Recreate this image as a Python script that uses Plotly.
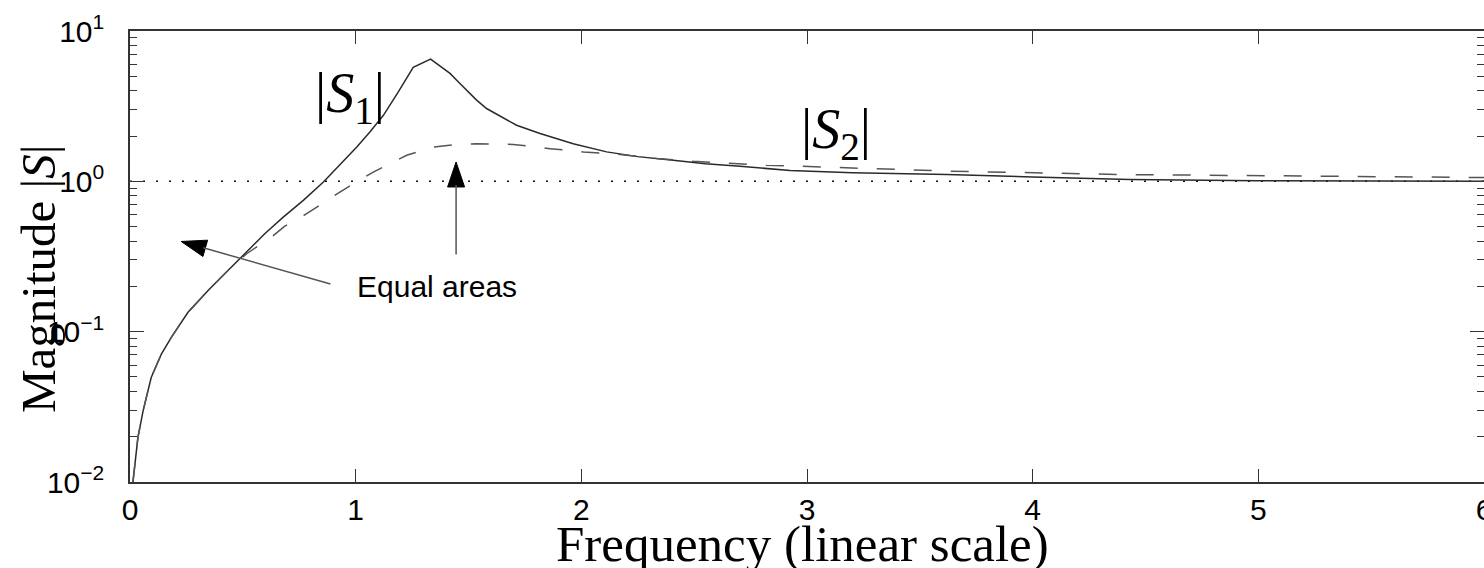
import math
import plotly.graph_objects as go

# ---- data ----
freq_s1 = [0.013, 0.021, 0.028, 0.035, 0.058, 0.094, 0.139, 0.183, 0.257, 0.346, 0.434,
           0.523, 0.597, 0.679, 0.768, 0.857, 0.93, 1.005, 1.063, 1.123, 1.189, 1.255,
           1.332, 1.418, 1.462, 1.536, 1.58, 1.669, 1.713, 1.817, 1.964, 2.112, 2.25,
           2.407, 2.55, 2.703, 2.925, 3.2, 3.62, 4.0, 4.43, 5.0, 5.5, 6.0]
mag_s1 = [0.0100, 0.0131, 0.0160, 0.0197, 0.0297, 0.0496, 0.071, 0.0916, 0.1345, 0.1877, 0.255,
          0.347, 0.448, 0.578, 0.747, 0.99, 1.28, 1.69, 2.13, 2.75, 3.94, 5.73,
          6.5, 5.22, 4.48, 3.47, 3.05, 2.55, 2.36, 2.08, 1.78, 1.57, 1.46,
          1.38, 1.31, 1.26, 1.18, 1.14, 1.11, 1.07, 1.03, 1.01, 1.0, 1.0]

freq_s2 = [0.013, 0.021, 0.028, 0.035, 0.058, 0.094, 0.139, 0.183, 0.257, 0.346, 0.434,
           0.517, 0.635, 0.683, 0.783, 0.93, 1.078, 1.196, 1.226, 1.344, 1.374, 1.45,
           1.536, 1.698, 1.861, 2.009, 2.171, 2.334, 2.496, 2.659, 2.82, 2.97, 3.62,
           4.4, 5.17, 5.88, 6.0]
mag_s2 = [0.0100, 0.0131, 0.0160, 0.0197, 0.0297, 0.0496, 0.071, 0.0916, 0.1345, 0.1877, 0.255,
          0.33, 0.436, 0.50, 0.609, 0.849, 1.153, 1.42, 1.49, 1.69, 1.71, 1.76,
          1.78, 1.76, 1.65, 1.57, 1.51, 1.42, 1.36, 1.32, 1.28, 1.26, 1.17,
          1.11, 1.08, 1.06, 1.06]

ref_x = [0, 6]
ref_y = [1, 1]

x_ticks = [0, 1, 2, 3, 4, 5, 6]
y_ticks = [0.01, 0.1, 1, 10]
y_ticktext = ["10<sup>−2</sup>", "10<sup>−1</sup>", "10<sup>0</sup>", "10<sup>1</sup>"]

# ---- layout constants ----
W, H = 1484, 568
ML, MR, MT, MB = 130, 0, 31, 86
SANS = "Liberation Sans, Arial, sans-serif"
SERIF = "Liberation Serif, Times New Roman, serif"


def px_to_paper(px, py):
    return (px - ML) / (W - ML - MR), 1 - (py - MT) / (H - MT - MB)


fig = go.Figure()
fig.add_trace(go.Scatter(x=ref_x, y=ref_y, mode="lines",
                         line=dict(color="#111111", width=1.5, dash="2px,11px"),
                         showlegend=False, hoverinfo="skip"))
fig.add_trace(go.Scatter(x=freq_s1, y=mag_s1, mode="lines",
                         line=dict(color="#2a2a2a", width=1.5),
                         showlegend=False))
fig.add_trace(go.Scatter(x=freq_s2, y=mag_s2, mode="lines",
                         line=dict(color="#555555", width=1.5, dash="18px,19px"),
                         showlegend=False))

minor_vals = [m * 10 ** e for e in (-2, -1, 0) for m in range(2, 10)]

fig.update_xaxes(range=[0, 6], tickvals=x_ticks, ticks="inside", ticklen=13,
                 tickwidth=1.2, tickcolor="#333", showline=True, linecolor="#333",
                 linewidth=1.5, mirror="ticks", showgrid=False, zeroline=False,
                 tickfont=dict(family=SANS, size=30, color="black"),
                 ticklabelstandoff=0, automargin=False, ticklabeloverflow="allow")
fig.update_yaxes(type="log", range=[-2, 1], tickvals=y_ticks, ticktext=y_ticktext,
                 ticks="inside", ticklen=14, tickwidth=1.2, tickcolor="#333",
                 showline=True, linecolor="#333", linewidth=1.5, mirror="ticks",
                 showgrid=False, zeroline=False,
                 minor=dict(tickvals=minor_vals, ticks="inside", ticklen=7,
                            tickwidth=1.2, tickcolor="#333", showgrid=False),
                 tickfont=dict(family=SANS, size=30, color="black"),
                 ticklabelstandoff=18, automargin=False)

ann = []
for text, cx, cy in [("|<i>S</i><sub>1</sub>|", 350, 97), ("|<i>S</i><sub>2</sub>|", 836, 133)]:
    x, y = px_to_paper(cx, cy)
    ann.append(dict(text=text, xref="paper", yref="paper", x=x, y=y,
                    xanchor="center", yanchor="middle", showarrow=False,
                    font=dict(family=SERIF, size=56, color="black")))

x, y = px_to_paper(802, 544)
ann.append(dict(text="Frequency (linear scale)", xref="paper", yref="paper", x=x, y=y,
                xanchor="center", yanchor="middle", showarrow=False,
                font=dict(family=SERIF, size=51, color="black")))
x, y = px_to_paper(38, 278)
ann.append(dict(text="Magnitude |<i>S</i>|", xref="paper", yref="paper", x=x, y=y,
                xanchor="center", yanchor="middle", textangle=-90, showarrow=False,
                font=dict(family=SERIF, size=49, color="black")))
x, y = px_to_paper(437, 286)
ann.append(dict(text="Equal areas", xref="paper", yref="paper", x=x, y=y,
                xanchor="center", yanchor="middle", showarrow=False,
                font=dict(family=SANS, size=30, color="black")))

# arrows: tip in data coords, tail offset in pixels
arrows = [
    dict(x=0.227, y=0.398, ax=150.7, ay=43.0),
    dict(x=1.445, y=1.345, ax=0.0, ay=94.0),
]
shapes = []
HEAD_L, HEAD_W = 25, 17
for a in arrows:
    ann.append(dict(x=a["x"], y=math.log10(a["y"]), xref="x", yref="y",
                    ax=a["ax"], ay=a["ay"], showarrow=True, arrowhead=0,
                    arrowwidth=1.5, arrowcolor="#555555", standoff=HEAD_L - 2, text=""))
    L = math.hypot(a["ax"], a["ay"])
    ux, uy = a["ax"] / L, -a["ay"] / L
    pxv, pyv = -uy, ux
    bx, by = ux * HEAD_L, uy * HEAD_L
    c1 = (bx + pxv * HEAD_W / 2, by + pyv * HEAD_W / 2)
    c2 = (bx - pxv * HEAD_W / 2, by - pyv * HEAD_W / 2)
    path = f"M0,0 L{c1[0]:.2f},{c1[1]:.2f} L{c2[0]:.2f},{c2[1]:.2f} Z"
    shapes.append(dict(type="path", xref="x", yref="y", xsizemode="pixel",
                       ysizemode="pixel", xanchor=a["x"], yanchor=a["y"], path=path,
                       fillcolor="black", line=dict(color="black", width=1), layer="above"))

fig.update_layout(width=W, height=H, margin=dict(l=ML, r=MR, t=MT, b=MB),
                  paper_bgcolor="white", plot_bgcolor="white",
                  annotations=ann, shapes=shapes, showlegend=False)

fig.write_html("out.html", config={"displayModeBar": False},
               post_script="document.body.style.margin='0px';"
                           "document.body.style.overflow='hidden';")
